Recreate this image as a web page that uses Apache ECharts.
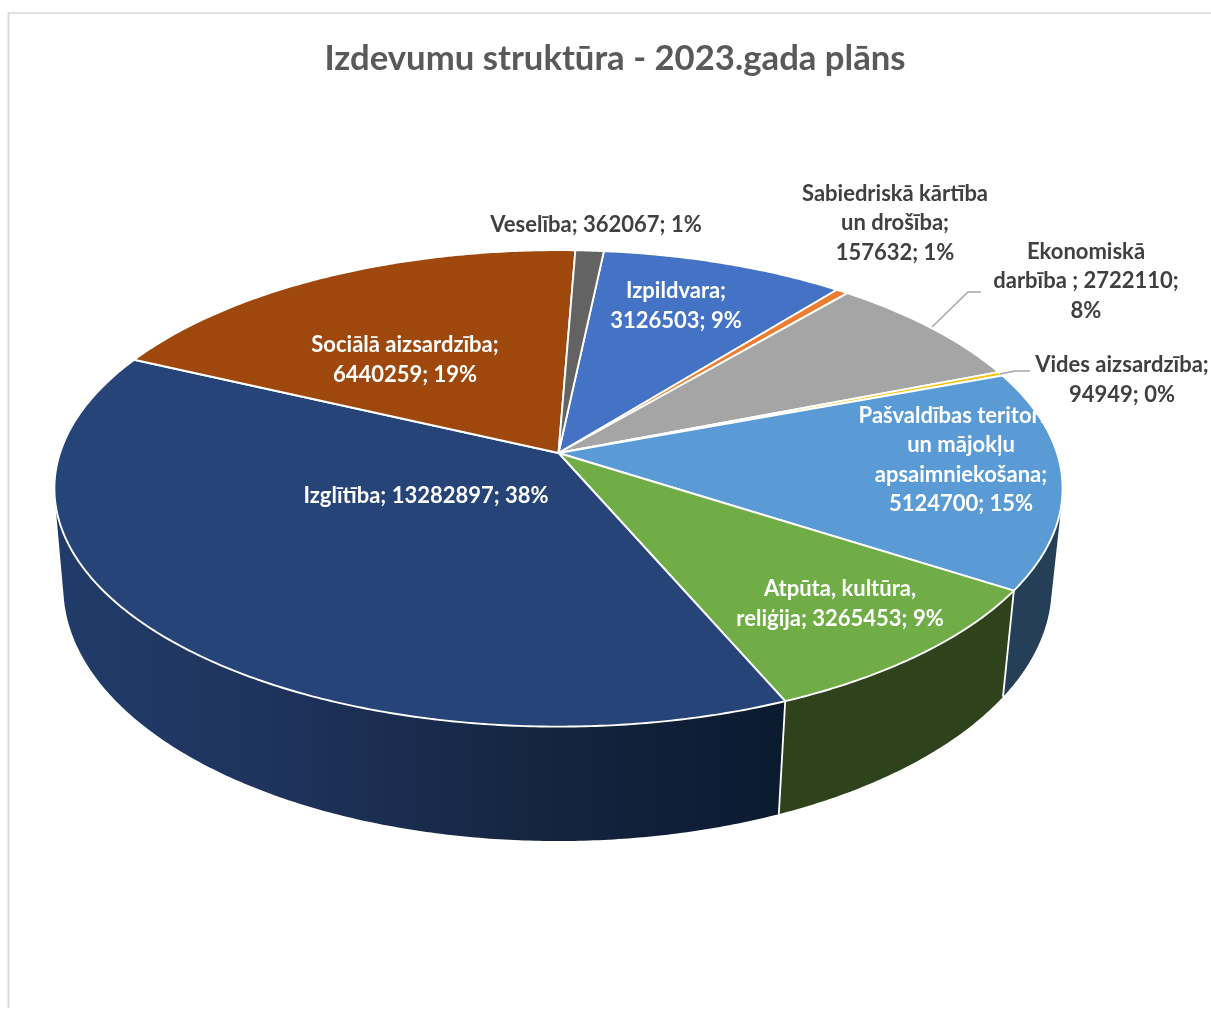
<!DOCTYPE html>
<html>
<head>
<meta charset="utf-8">
<title>Izdevumu struktūra</title>
<style>
  html, body { margin: 0; padding: 0; background: #fff; }
  #chart { width: 1211px; height: 1010px; }
</style>
<script src="https://cdn.jsdelivr.net/npm/echarts@6/dist/echarts.min.js"></script>
</head>
<body>
<div id="chart"></div>
<script>
// values, clockwise from the top
const categories = ['Izpildvara', 'Sabiedriskā kārtība un drošība', 'Ekonomiskā darbība', 'Vides aizsardzība',
  'Pašvaldības teritoriju un mājokļu apsaimniekošana', 'Atpūta, kultūra, reliģija', 'Izglītība', 'Sociālā aizsardzība', 'Veselība'];
const values = [3126503, 157632, 2722110, 94949, 5124700, 3265453, 13282897, 6440259, 362067];
const percents = ['9%', '1%', '8%', '0%', '15%', '9%', '38%', '19%', '1%'];

// label wording, with the line breaks of the picture
const labelTemplates = [
  'Izpildvara;\n{v}; {p}',
  'Sabiedriskā kārtība\nun drošība;\n{v}; {p}',
  'Ekonomiskā\ndarbība ; {v};\n{p}',
  'Vides aizsardzība;\n{v}; {p}',
  'Pašvaldības teritoriju\nun mājokļu\napsaimniekošana;\n{v}; {p}',
  'Atpūta, kultūra,\nreliģija; {v}; {p}',
  'Izglītība; {v}; {p}',
  'Sociālā aizsardzība;\n{v}; {p}',
  'Veselība; {v}; {p}'
];

// styles and layout
const topColors = ['#4472c4', '#ed7d31', '#a5a5a5', '#ffc000', '#5b9bd5', '#70ad47', '#264478', '#9e480e', '#636363'];
const wallColors = ['#223a66', '#76401a', '#555555', '#806000', '#243f57', '#2e431c', null, '#4f2407', '#333333'];
const navyWallStops = [
  { offset: 0, color: '#213c69' },
  { offset: 0.3, color: '#1e335c' },
  { offset: 0.65, color: '#152541' },
  { offset: 1, color: '#0c1a2f' }
];
const labelPos = [[676, 306], [895, 223], [1086, 281], [1122, 380], [961, 460], [840, 604], [426, 496], [405, 360], [596, 225]];
const labelDark = [false, true, true, true, false, false, false, false, true];
const leaders = [
  [[932, 327], [968, 292], [981, 292]],
  [[1000, 374], [1015, 371], [1030, 371]]
];
const FONT = 'Lato, "Noto Sans", sans-serif';
const START_ANGLE = 6;

// the disc is seen in perspective: the centre of the circle is above the centre of the ellipse
const topPlane = { x: 558.5, y: 453, a: 498.5, b: 233, k: 0.1485 };
const bottomPlane = { x: 557.5, y: 550.5, a: 489, b: 248.7, k: 0.144 };

const total = values.reduce((s, v) => s + v, 0);

function project(plane, deg) {
  const r = deg * Math.PI / 180;
  const u = Math.sin(r), v = Math.cos(r);
  const w = 1 + plane.k * v;
  return [plane.x + plane.a * u / w, plane.y - plane.b * v / w];
}

function sliceRange(i) {
  let before = 0;
  for (let j = 0; j < i; j++) before += values[j];
  const from = START_ANGLE + before / total * 360;
  return [from, from + values[i] / total * 360];
}

function arc(plane, from, to) {
  const pts = [];
  const n = Math.max(2, Math.ceil((to - from) * 2));
  for (let s = 0; s <= n; s++) pts.push(project(plane, from + (to - from) * s / n));
  return pts;
}

// quad as a subpath, always wound the same way so overlaps do not cancel out
function quadPath(a, b, c, d) {
  const pts = [a, b, c, d];
  let area = 0;
  pts.forEach((p, i) => {
    const q = pts[(i + 1) % 4];
    area += p[0] * q[1] - q[0] * p[1];
  });
  if (area < 0) pts.reverse();
  return 'M' + pts[0] + 'L' + pts[1] + 'L' + pts[2] + 'L' + pts[3] + 'Z';
}

function renderWall(params, api) {
  const i = api.value(0);
  const [from, to] = sliceRange(i);
  const upper = arc(topPlane, from, to);
  const lower = arc(bottomPlane, from, to);
  const fill = wallColors[i] || new echarts.graphic.LinearGradient(60, 0, 785, 0, navyWallStops, true);
  let d = '';
  for (let s = 0; s < upper.length - 1; s++) {
    d += quadPath(upper[s], upper[s + 1], lower[s + 1], lower[s]);
  }
  return {
    type: 'group',
    children: [
      { type: 'path', shape: { pathData: d }, style: { fill: fill } },
      {
        type: 'line',
        z2: 5,
        shape: { x1: upper[0][0], y1: upper[0][1], x2: lower[0][0], y2: lower[0][1] },
        style: { stroke: '#fff', lineWidth: 1.8 }
      }
    ]
  };
}

function renderTop(params, api) {
  const i = api.value(0);
  const [from, to] = sliceRange(i);
  const pts = [[topPlane.x, topPlane.y]].concat(arc(topPlane, from, to));
  return {
    type: 'polygon',
    shape: { points: pts },
    style: { fill: topColors[i], stroke: '#fff', lineWidth: 1.9, lineJoin: 'round' }
  };
}

function renderLabel(params, api) {
  const i = api.value(0);
  const text = labelTemplates[i].replace('{v}', values[i]).replace('{p}', percents[i]);
  return {
    type: 'text',
    style: {
      text: text,
      x: labelPos[i][0],
      y: labelPos[i][1],
      align: 'center',
      verticalAlign: 'middle',
      fill: labelDark[i] ? '#404040' : '#ffffff',
      fontFamily: FONT,
      fontWeight: 'bold',
      fontSize: 22,
      lineHeight: 29.5
    }
  };
}

const rows = values.map((v, i) => [i, v]);

const chart = echarts.init(document.getElementById('chart'));
chart.setOption({
  animation: false,
  backgroundColor: '#fff',
  title: {
    text: 'Izdevumu struktūra - 2023.gada plāns',
    left: 610,
    top: 36,
    textAlign: 'center',
    textStyle: { color: '#595959', fontFamily: FONT, fontWeight: 'bold', fontSize: 34.7 }
  },
  graphic: [
    { type: 'line', silent: true, shape: { x1: 8.5, y1: 13, x2: 8.5, y2: 1008 }, style: { stroke: '#d9d9d9', lineWidth: 2 } },
    { type: 'line', silent: true, shape: { x1: 8, y1: 13, x2: 1211, y2: 13 }, style: { stroke: '#d9d9d9', lineWidth: 1.5 } }
  ].concat(leaders.map(pts => ({
    type: 'polyline', silent: true, z: 20, shape: { points: pts }, style: { stroke: '#a6a6a6', lineWidth: 1.5, fill: null }
  }))),
  series: [
    { type: 'custom', name: 'wall', coordinateSystem: 'none', silent: true, z: 1, data: rows, renderItem: renderWall },
    { type: 'custom', name: 'top', coordinateSystem: 'none', silent: true, z: 2, data: rows, renderItem: renderTop },
    { type: 'custom', name: 'labels', coordinateSystem: 'none', silent: true, z: 3, data: rows, renderItem: renderLabel }
  ]
});
</script>
</body>
</html>
